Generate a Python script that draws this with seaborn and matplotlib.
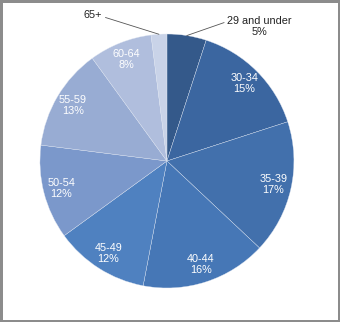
import numpy as np
import matplotlib
matplotlib.use("Agg")
import matplotlib.pyplot as plt
import seaborn as sns

categories = ["29 and under", "30-34", "35-39", "40-44", "45-49", "50-54", "55-59", "60-64", "65+"]
shares = [5, 15, 17, 16, 12, 12, 13, 8, 2]
pct_labels = ["5%", "15%", "17%", "16%", "12%", "12%", "13%", "8%", "2%"]
slice_colors = ["#34598a", "#3b66a0", "#4270ac", "#4677b6", "#4f81c0",
                "#7b98cb", "#98acd3", "#b0bedd", "#c9d3e8"]

sns.set_theme(style="white")
plt.rcParams["font.family"] = ["Liberation Sans", "DejaVu Sans"]
palette = sns.color_palette(slice_colors)

fig = plt.figure(figsize=(3.4, 3.22), dpi=100)
fig.patch.set_facecolor("white")
fig.patch.set_edgecolor("#8c8c8c")
fig.patch.set_linewidth(2.5)

ax = fig.add_axes([0.491 - 0.3735, 0.5 - 0.3944, 0.747, 0.7888])
wedges, _ = ax.pie(shares, colors=palette, startangle=90, counterclock=False,
                   wedgeprops=dict(edgecolor="#dfe6f2", linewidth=0.25))
ax.set_xlim(-1, 1)
ax.set_ylim(-1, 1)
ax.set_aspect("equal")

total = sum(shares)
cum = 0
for i, (cat, s, pl) in enumerate(zip(categories, shares, pct_labels)):
    mid = (cum + s / 2) / total
    cum += s
    ang = np.deg2rad(90 - mid * 360)
    x, y = np.cos(ang), np.sin(ang)
    if cat == "29 and under":
        ax.annotate(cat + "\n" + pl, xy=(x * 1.0, y * 1.0), xytext=(0.73, 1.06),
                    ha="center", va="center", fontsize=7.8, color="#222222",
                    annotation_clip=False,
                    arrowprops=dict(arrowstyle="-", color="#555555", lw=0.6,
                                    shrinkA=0, shrinkB=0, relpos=(0.02, 0.75)))
    elif cat == "65+":
        ax.annotate(cat, xy=(x * 1.0, y * 1.0), xytext=(-0.51, 1.15),
                    ha="right", va="center", fontsize=7.8, color="#222222",
                    annotation_clip=False,
                    arrowprops=dict(arrowstyle="-", color="#555555", lw=0.6,
                                    shrinkA=0, shrinkB=0, relpos=(1.0, 0.35)))
    else:
        r = 0.86
        ax.text(x * r, y * r, cat + "\n" + pl, ha="center", va="center",
                fontsize=7.8, color="white", linespacing=1.15)

fig.savefig("out.png", dpi=100, facecolor=fig.get_facecolor(), edgecolor=fig.get_edgecolor())
